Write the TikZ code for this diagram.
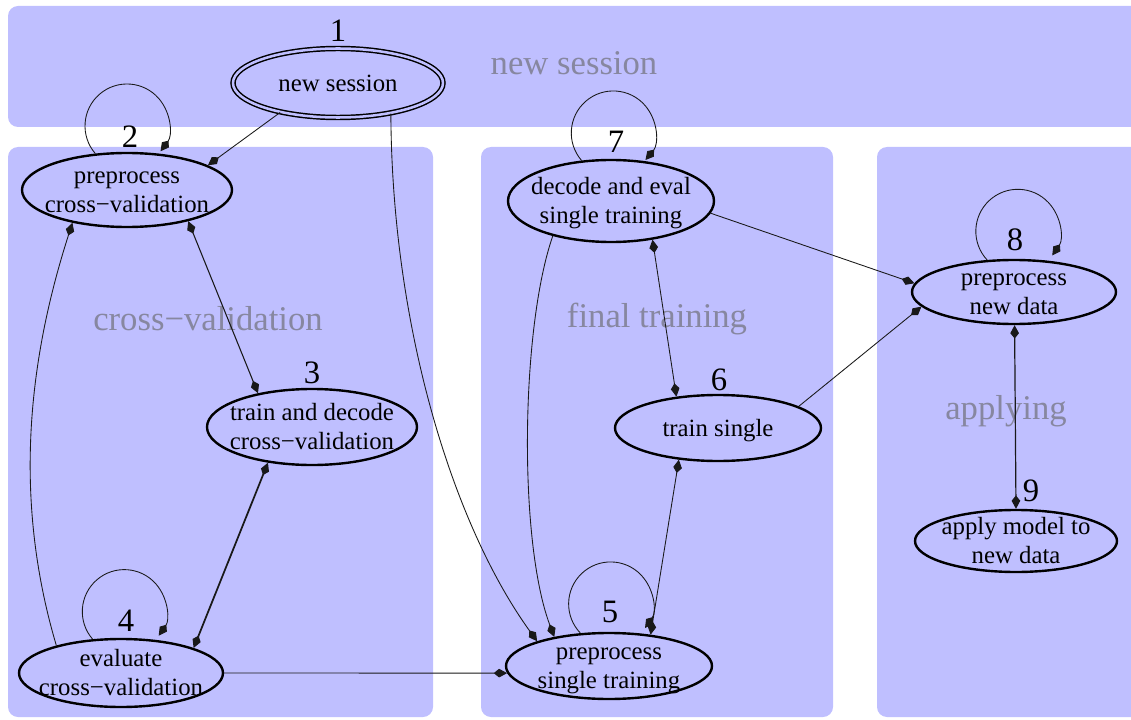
\documentclass[tikz,border=0pt]{standalone}
\usepackage{fontspec}
\setmainfont{Liberation Serif}
\usetikzlibrary{shapes.geometric,arrows.meta}
\definecolor{clfill}{RGB}{191,191,255}
\definecolor{cltext}{RGB}{135,135,160}
\newcommand{\ntext}[1]{\makebox[0pt]{\smash{\raisebox{\dimexpr(\depth-\height)/2-2pt\relax}{\begin{tabular}{@{}c@{}}#1\end{tabular}}}}}
\begin{document}
\begin{tikzpicture}[x=0.75pt,y=0.75pt,
  cluster/.style={fill=clfill,draw=none,rounded corners=7.5pt},
  cltitle/.style={text=cltext,inner sep=0pt,font=\fontsize{26}{30}\selectfont},
  state/.style n args={2}{ellipse,draw=black,line width=1.8pt,inner sep=0pt,
     minimum width=#1*1.5pt,minimum height=#2*1.5pt,font=\fontsize{18.6}{21.75}\selectfont},
  num/.style={inner sep=0pt,font=\fontsize{24.5}{28}\selectfont},
  edge/.style={line width=0.65pt,draw=black!90},
  >={Kite[length=10pt,width=6.5pt,inset=4pt]}]
\useasboundingbox (0,0) rectangle (1131,719);
\clip (0,0) rectangle (1131,719);
% clusters
\path[cluster] (8,592) rectangle (1150,713);
\path[cluster] (8,2) rectangle (433,572);
\path[cluster] (481,2) rectangle (833,572);
\path[cluster] (877,2) rectangle (1150,572);
\node[cltitle] (tnew) at (574,656) {new session};
\node[cltitle] (tcv) at (208,400) {cross−validation};
\node[cltitle] (tft) at (657,400) {final training};
\node[cltitle] (tap) at (1006,308) {applying};
% states
\node[state={105}{34.5},line width=1.1pt,double=clfill,double distance=1.9pt] (n1) at (338,636) {\ntext{new session}};
\node[state={105}{37}] (n2) at (127,529) {\ntext{preprocess\\cross−validation}};
\node[state={105}{38}] (n3) at (312,292) {\ntext{train and decode\\cross−validation}};
\node[state={102}{34}] (n4) at (121,46) {\ntext{evaluate\\cross−validation}};
\node[state={103}{33}] (n5) at (609,53) {\ntext{preprocess\\single training}};
\node[state={103}{33}] (n6) at (718,291) {\ntext{train single}};
\node[state={103}{41}] (n7) at (611,518) {\ntext{decode and eval\\single training}};
\node[state={102}{32}] (n8) at (1014,427) {\ntext{preprocess\\new data}};
\node[state={101}{31}] (n9) at (1016,178) {\ntext{apply model to\\new data}};
% numbers
\node[num] (l1) at (338,688) {1};
\node[num] (l2) at (130,582) {2};
\node[num] (l3) at (312,346) {3};
\node[num] (l4) at (126,98) {4};
\node[num] (l5) at (610,107) {5};
\node[num] (l6) at (719,339) {6};
\node[num] (l7) at (616,577) {7};
\node[num] (l8) at (1015,479) {8};
\node[num] (l9) at (1031,228) {9};
% edges
\draw[edge,->] (n1.207) -- (n2.17);
\draw[edge,->] (n1.-30) .. controls +(1,-212) and +(-85,118) .. (n5.161.6);
\draw[edge,<->,line width=0.8pt] (n2.-27.5) -- (n3.148.5);
\draw[edge,<->,line width=1.3pt] (n3.219) -- (n4.19);
\draw[edge,->] (n4.157.6) .. controls +(-43,145) and +(-45,-140) .. (n2.211);
\draw[edge,->] (n4.0) -- (n5.184);
\draw[edge,->] (n7.211) .. controls +(-32,-92) and +(-36,96) .. (n5.152.6);
\draw[edge,<->] (n7.-43) -- (n6.143);
\draw[edge,<->] (n6.219.5) -- (n5.37);
\draw[edge,->] (n7.-7.7) -- (n8.175);
\draw[edge,->] (n6.15) -- (n8.189.5);
\draw[edge,<->,line width=0.9pt] (n8.-89) -- (n9.90);
% self loops
\draw[edge,->] (n2.131) arc[start angle=221,end angle=-37,radius=42];
\draw[edge,->] (n4.130) arc[start angle=221,end angle=-35,radius=42];
\draw[edge,->] (n5.131) arc[start angle=224,end angle=-35,radius=42];
\draw[edge,->] (n7.126) arc[start angle=221,end angle=-40,radius=42];
\draw[edge,->] (n8.130) arc[start angle=223,end angle=-35,radius=42];
\end{tikzpicture}
\end{document}
